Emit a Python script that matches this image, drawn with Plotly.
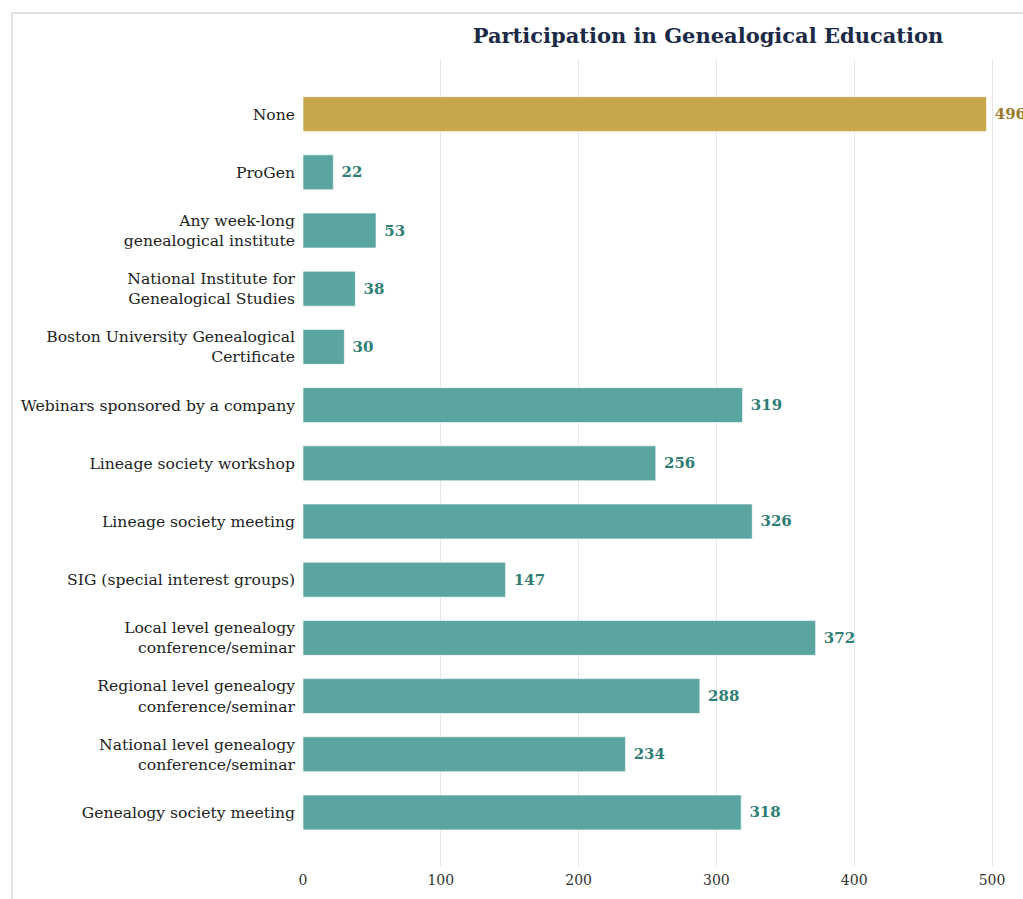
import plotly.graph_objects as go

# Categories listed bottom-to-top as drawn on the y axis
categories = [
    "Genealogy society meeting",
    "National level genealogy<br>conference/seminar",
    "Regional level genealogy<br>conference/seminar",
    "Local level genealogy<br>conference/seminar",
    "SIG (special interest groups)",
    "Lineage society meeting",
    "Lineage society workshop",
    "Webinars sponsored by a company",
    "Boston University Genealogical<br>Certificate",
    "National Institute for<br>Genealogical Studies",
    "Any week-long<br>genealogical institute",
    "ProGen",
    "None",
]
counts = [318, 234, 288, 372, 147, 326, 256, 319, 30, 38, 53, 22, 496]
x_ticks = [0, 100, 200, 300, 400, 500]

TEAL = "#5BA5A0"
TEAL_TEXT = "#2E7E76"
GOLD = "#C8A64B"
GOLD_TEXT = "#9A7B2A"
FONT = "DejaVu Serif"

bar_colors = [GOLD if c == "None" else TEAL for c in categories]
text_colors = [GOLD_TEXT if c == "None" else TEAL_TEXT for c in categories]

W, H = 1023, 899
L, R, T, B = 303, 0, 60, 33
plot_w = W - L - R
plot_h = H - T - B
px_per_unit = 1.378

fig = go.Figure(
    go.Bar(
        x=counts,
        y=categories,
        orientation="h",
        marker=dict(color=bar_colors, line=dict(color="rgba(255,255,255,0.6)", width=1)),
        texttemplate=" %{x}",
        textposition="outside",
        cliponaxis=False,
        textfont=dict(family=FONT, size=15, color=text_colors, weight="bold"),
        hoverinfo="x+y",
    )
)

# light frame around the chart
fig.add_shape(
    type="rect",
    xref="paper", yref="paper",
    x0=(12 - L) / plot_w, x1=1.3,
    y0=-0.2, y1=1 + (T - 13) / plot_h,
    line=dict(color="#E2E2E2", width=2),
    fillcolor="rgba(0,0,0,0)",
    layer="below",
)

fig.update_layout(
    width=W,
    height=H,
    margin=dict(l=L, r=R, t=T, b=B, pad=0),
    paper_bgcolor="white",
    plot_bgcolor="white",
    bargap=0.4,
    showlegend=False,
    title=dict(
        text="<b>Participation in Genealogical Education</b>",
        x=708 / W,
        xanchor="center",
        y=1 - 36 / H,
        yanchor="middle",
        font=dict(family=FONT, size=21, color="#1B2A47"),
    ),
    xaxis=dict(
        range=[0, plot_w / px_per_unit],
        tickvals=x_ticks,
        ticktext=[str(t) for t in x_ticks],
        showgrid=True,
        gridcolor="#E6E6E6",
        gridwidth=1,
        zeroline=False,
        showline=False,
        ticks="",
        ticklabelstandoff=4,
        tickfont=dict(family=FONT, size=14, color="#333333"),
    ),
    yaxis=dict(
        type="category",
        categoryorder="array",
        categoryarray=categories,
        range=[-0.92, len(categories) - 1 + 0.93],
        showgrid=False,
        zeroline=False,
        showline=False,
        ticks="",
        ticklabelstandoff=7,
        tickfont=dict(family=FONT, size=15.6, color="#222222"),
    ),
)

fig.write_html("out.html")
